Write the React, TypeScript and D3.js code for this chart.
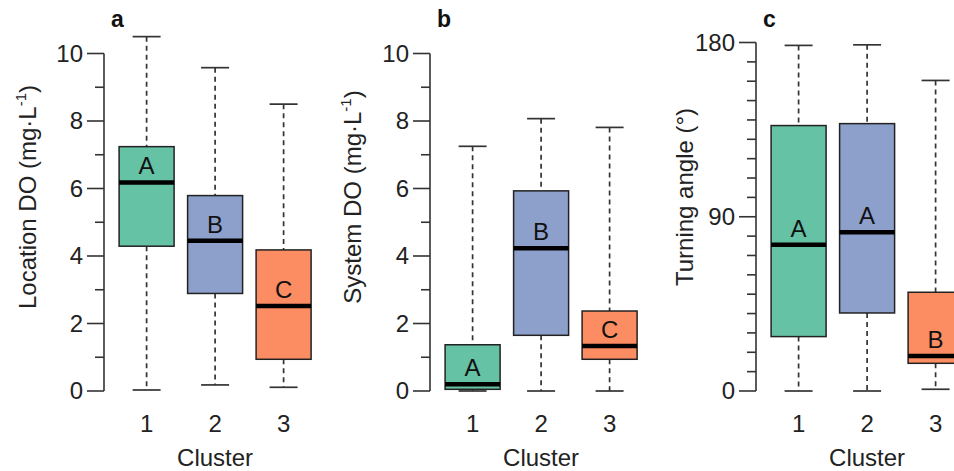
import React from 'react';
import * as d3 from 'd3';

// five-number summaries per cluster: [min, q1, median, q3, max]
const clusters = ['1', '2', '3'];
const locationDO = [
  [0.03, 4.29, 6.18, 7.24, 10.5],
  [0.18, 2.89, 4.45, 5.79, 9.58],
  [0.11, 0.94, 2.52, 4.18, 8.5],
];
const systemDO = [
  [0.0, 0.05, 0.2, 1.37, 7.25],
  [0.0, 1.65, 4.23, 5.93, 8.07],
  [0.0, 0.94, 1.33, 2.37, 7.81],
];
const turningAngle = [
  [0, 28.1, 75.6, 137.1, 178.5],
  [0, 40.3, 82, 138.1, 178.8],
  [0.9, 14.3, 18.1, 51, 160.4],
];
const locationLetters = ['A', 'B', 'C'];
const systemLetters = ['A', 'B', 'C'];
const angleLetters = ['A', 'A', 'B'];
const doTicks = [0, 2, 4, 6, 8, 10];
const doMinor = [1, 3, 5, 7, 9];
const angleTicks = [0, 90, 180];
const angleMinor = [10, 20, 30, 40, 50, 60, 70, 80, 100, 110, 120, 130, 140, 150, 160, 170];
const colors = ['#66C2A5', '#8DA0CB', '#FC8D62'];

const W = 954;
const H = 471;
const FONT = 'Liberation Sans, Arial, sans-serif';
const FS = 24;

type PanelProps = {
  left: number;
  tag: string;
  stats: number[][];
  letters: string[];
  ticks: number[];
  minor: number[];
  yMax: number;
  yTop: number;
  titleDx: number;
  title: React.ReactNode;
};

const Panel = ({ left, tag, stats, letters, ticks, minor, yMax, yTop, titleDx, title }: PanelProps) => {
  const y = d3.scaleLinear().domain([0, yMax]).range([391, yTop]);
  const x = d3.scaleLinear().domain([0, 2]).range([left + 42.6, left + 179.6]);
  const halfBox = 27.5;
  const halfCap = 14;
  const ink = '#333';

  return (
    <g>
      {/* y axis */}
      <line x1={left} x2={left} y1={y(0)} y2={y(yMax)} stroke={ink} strokeWidth={1.6} />
      {ticks.map(t => (
        <g key={'t' + t}>
          <line x1={left - 17} x2={left} y1={y(t)} y2={y(t)} stroke={ink} strokeWidth={1.6} />
          <text x={left - 21} y={y(t)} dy="0.35em" textAnchor="end" fontSize={FS} fill="#222">{t}</text>
        </g>
      ))}
      {minor.map(t => (
        <line key={'m' + t} x1={left - 9} x2={left} y1={y(t)} y2={y(t)} stroke={ink} strokeWidth={1.6} />
      ))}

      {/* boxes */}
      {stats.map((s, i) => {
        const cx = x(i);
        const [lo, q1, med, q3, hi] = s;
        return (
          <g key={'b' + i}>
            <line x1={cx} x2={cx} y1={y(hi)} y2={y(q3)} stroke={ink} strokeWidth={1.7} strokeDasharray="5,4" />
            <line x1={cx} x2={cx} y1={y(q1)} y2={y(lo)} stroke={ink} strokeWidth={1.7} strokeDasharray="5,4" />
            <line x1={cx - halfCap} x2={cx + halfCap} y1={y(hi)} y2={y(hi)} stroke={ink} strokeWidth={1.7} />
            <line x1={cx - halfCap} x2={cx + halfCap} y1={y(lo)} y2={y(lo)} stroke={ink} strokeWidth={1.7} />
            <rect x={cx - halfBox} width={halfBox * 2} y={y(q3)} height={y(q1) - y(q3)}
              fill={colors[i]} stroke="#222" strokeWidth={1.5} />
            <line x1={cx - halfBox} x2={cx + halfBox} y1={y(med)} y2={y(med)} stroke="#000" strokeWidth={4.5} />
            <text x={cx} y={y(med) - 8} textAnchor="middle" fontSize={FS} fill="#111">{letters[i]}</text>
            <text x={cx} y={432} textAnchor="middle" fontSize={FS} fill="#222">{clusters[i]}</text>
          </g>
        );
      })}

      <text x={x(1)} y={466} textAnchor="middle" fontSize={FS} fill="#222">Cluster</text>
      <text x={left + 7} y={27} fontSize={23} fontWeight="bold" fill="#111">{tag}</text>
      <text transform={`translate(${left - titleDx},197) rotate(-90)`} textAnchor="middle" dy="0.35em"
        fontSize={FS} fill="#222">{title}</text>
    </g>
  );
};

const doTitle = (name: string) => (
  <>
    {name} DO (mg·L<tspan dy={-10} fontSize={15}>-1</tspan><tspan dy={10}>)</tspan>
  </>
);

export default function App() {
  return (
    <svg width={W} height={H} style={{ position: 'absolute', left: 0, top: 0, background: '#fff' }}
      fontFamily={FONT}>
      <rect width={W} height={H} fill="#fff" />
      <Panel left={104} tag="a" stats={locationDO} letters={locationLetters} ticks={doTicks}
        minor={doMinor} yMax={10} yTop={53.5} titleDx={76} title={doTitle('Location')} />
      <Panel left={430} tag="b" stats={systemDO} letters={systemLetters} ticks={doTicks}
        minor={doMinor} yMax={10} yTop={53.5} titleDx={77} title={doTitle('System')} />
      <Panel left={756} tag="c" stats={turningAngle} letters={angleLetters} ticks={angleTicks}
        minor={angleMinor} yMax={180} yTop={42.5} titleDx={71} title="Turning angle (°)" />
    </svg>
  );
}
